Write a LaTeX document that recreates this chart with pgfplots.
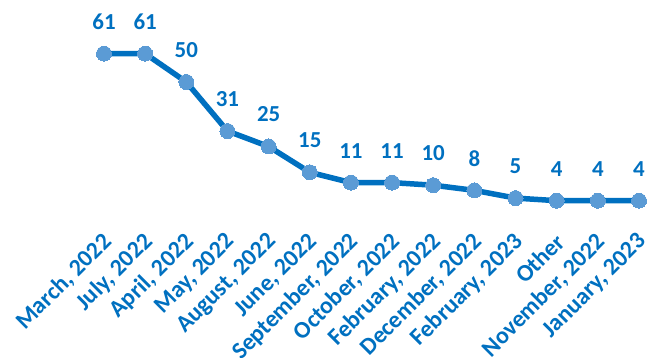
\documentclass[border=0pt]{standalone}
\usepackage{fontspec}
\setmainfont{Carlito}
\usepackage{pgfplots}
\pgfplotsset{compat=1.18}
\definecolor{lineblue}{HTML}{0070C0}
\definecolor{markblue}{HTML}{5B9BD5}
\begin{document}
\begin{tikzpicture}[x=1bp,y=1bp]
\begin{axis}[
  scale only axis,
  width=535bp, height=157.4bp,
  xmin=0, xmax=13, ymin=0, ymax=61,
  clip=false,
  axis line style={draw=none},
  major tick length=0pt,
  ytick=\empty,
  xtick={0,...,13},
  xticklabels={{March, 2022},{July, 2022},{April, 2022},{May, 2022},{August, 2022},{June, 2022},{September, 2022},{October, 2022},{February, 2022},{December, 2022},{February, 2023},{Other},{November, 2022},{January, 2023}},
  xticklabel style={anchor=east, inner sep=0pt, xshift=4bp, yshift=-27bp, rotate=45,
    font=\fontsize{24}{24}\selectfont\bfseries, text=lineblue},
  nodes near coords,
  /pgf/number format/assume math mode=true,
  every node near coord/.append style={anchor=center, yshift=32bp, inner sep=0pt,
    font=\fontsize{23}{23}\selectfont\bfseries, text=lineblue},
]
\coordinate (o) at (axis cs:0,0);
\addplot[color=lineblue, line width=5.5bp, mark=*, mark size=7.5bp,
  mark options={fill=markblue, draw=markblue, line width=0pt}]
  coordinates {(0,61) (1,61) (2,50) (3,31) (4,25) (5,15) (6,11) (7,11) (8,10) (9,8) (10,5) (11,4) (12,4) (13,4)};
\end{axis}
\pgfresetboundingbox
\path ([shift={(-104bp,-147bp)}]o) rectangle ([shift={(552bp,211bp)}]o);
\end{tikzpicture}
\end{document}
